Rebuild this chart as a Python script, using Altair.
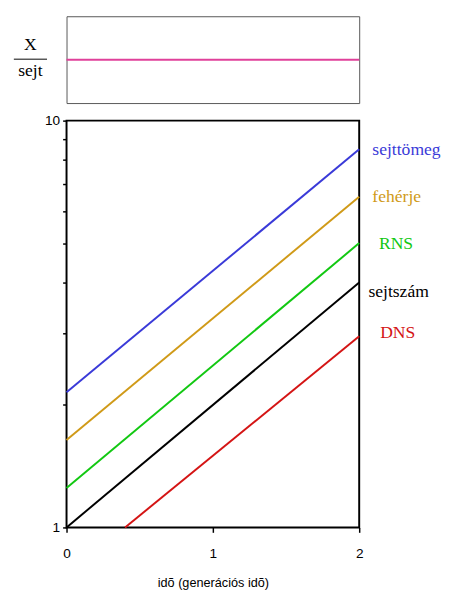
import altair as alt
import pandas as pd

series = ["sejttömeg", "fehérje", "RNS", "sejtszám", "DNS"]
colors = ["#3a3ad8", "#d09a18", "#12c812", "#000000", "#d41414"]
x_start = [0, 0, 0, 0, 0.4]
y_start = [2.15, 1.64, 1.25, 1.0, 1.0]
x_end = [2, 2, 2, 2, 2]
y_end = [8.5, 6.5, 5.0, 4.0, 2.95]
label_x = [2.09, 2.09, 2.135, 2.063, 2.143]
label_y = [8.47, 6.5, 4.96, 3.78, 3.0]
x_ticks = [0, 1, 2]
y_ticks = [1, 2, 3, 4, 5, 6, 7, 8, 9, 10]

top_x = [0, 2]
top_y = [1, 1]

SERIF = "Times New Roman, Liberation Serif, serif"
SANS = "Arial, Liberation Sans, sans-serif"

rows = []
for s, xs, ys, xe, ye in zip(series, x_start, y_start, x_end, y_end):
    rows.append({"s": s, "x": xs, "y": ys, "o": 0})
    rows.append({"s": s, "x": xe, "y": ye, "o": 1})
lines_df = pd.DataFrame(rows)
labels_df = pd.DataFrame({"s": series, "x": label_x, "y": label_y})

color_scale = alt.Scale(domain=series, range=colors)
xscale = alt.Scale(domain=[0, 2], nice=False)
yscale = alt.Scale(type="log", domain=[1, 10], nice=False)

xaxis = alt.Axis(values=x_ticks, labelExpr="'' + datum.value",
                 ticks=True, tickSize=5, tickWidth=1.5, labelPadding=15,
                 labelFontSize=14, labelFont=SANS, labelColor="#000",
                 labelOverlap=False, labelFlush=False,
                 tickColor="#000", domain=False, grid=False,
                 title="idõ (generációs idõ)", titleFont=SANS,
                 titleFontSize=13, titleFontWeight="normal", titleColor="#000",
                 titlePadding=17)
yaxis = alt.Axis(values=y_ticks,
                 labelExpr="datum.value == 1 || datum.value == 10 ? datum.label : ''",
                 ticks=True, tickSize=4, tickWidth=1.5,
                 tickColor="#000", labelPadding=3, labelFontSize=14,
                 labelFont=SANS, labelColor="#000", labelOverlap=False, labelFlush=False,
                 domain=False, grid=False, title=None)

lines = alt.Chart(lines_df).mark_line(strokeWidth=2).encode(
    x=alt.X("x:Q", scale=xscale, axis=xaxis),
    y=alt.Y("y:Q", scale=yscale, axis=yaxis),
    color=alt.Color("s:N", scale=color_scale, legend=None),
    detail="s:N",
    order="o:Q",
)
labels = alt.Chart(labels_df).mark_text(align="left", baseline="middle",
                                        font=SERIF, fontSize=18).encode(
    x=alt.X("x:Q"),
    y=alt.Y("y:Q"),
    text="s:N",
    color=alt.Color("s:N", scale=color_scale, legend=None),
)
main = alt.layer(lines, labels).properties(
    width=300, height=417, view=alt.ViewBackground(stroke="#000", strokeWidth=2)
)

top_df = pd.DataFrame({"x": top_x, "y": top_y})
top_line = alt.Chart(top_df).mark_line(color="#e0409a", strokeWidth=2).encode(
    x=alt.X("x:Q", scale=alt.Scale(domain=[0, 2], nice=False), axis=None),
    y=alt.Y("y:Q", scale=alt.Scale(domain=[0, 2]), axis=None),
)
frac_x = alt.Chart(pd.DataFrame({"t": ["X"]})).mark_text(
    font=SERIF, fontSize=18, baseline="bottom", align="center"
).encode(x=alt.value(-37), y=alt.value(39), text="t:N")
frac_s = alt.Chart(pd.DataFrame({"t": ["sejt"]})).mark_text(
    font=SERIF, fontSize=18, baseline="top", align="center"
).encode(x=alt.value(-37), y=alt.value(47), text="t:N")
frac_rule = alt.Chart(pd.DataFrame({"a": [0]})).mark_rule(color="#000", strokeWidth=1).encode(
    x=alt.value(-54), x2=alt.value(-20), y=alt.value(44)
)
top = alt.layer(top_line, frac_x, frac_s, frac_rule).properties(
    width=300, height=89, view=alt.ViewBackground(stroke="#555", strokeWidth=1)
)

chart = alt.vconcat(top, main, spacing=18, bounds="flush").properties(
    padding={"left": 5, "top": 0, "right": 5, "bottom": 5},
    background="white",
)
chart.save("out.html", embed_options={"renderer": "svg", "actions": False})
